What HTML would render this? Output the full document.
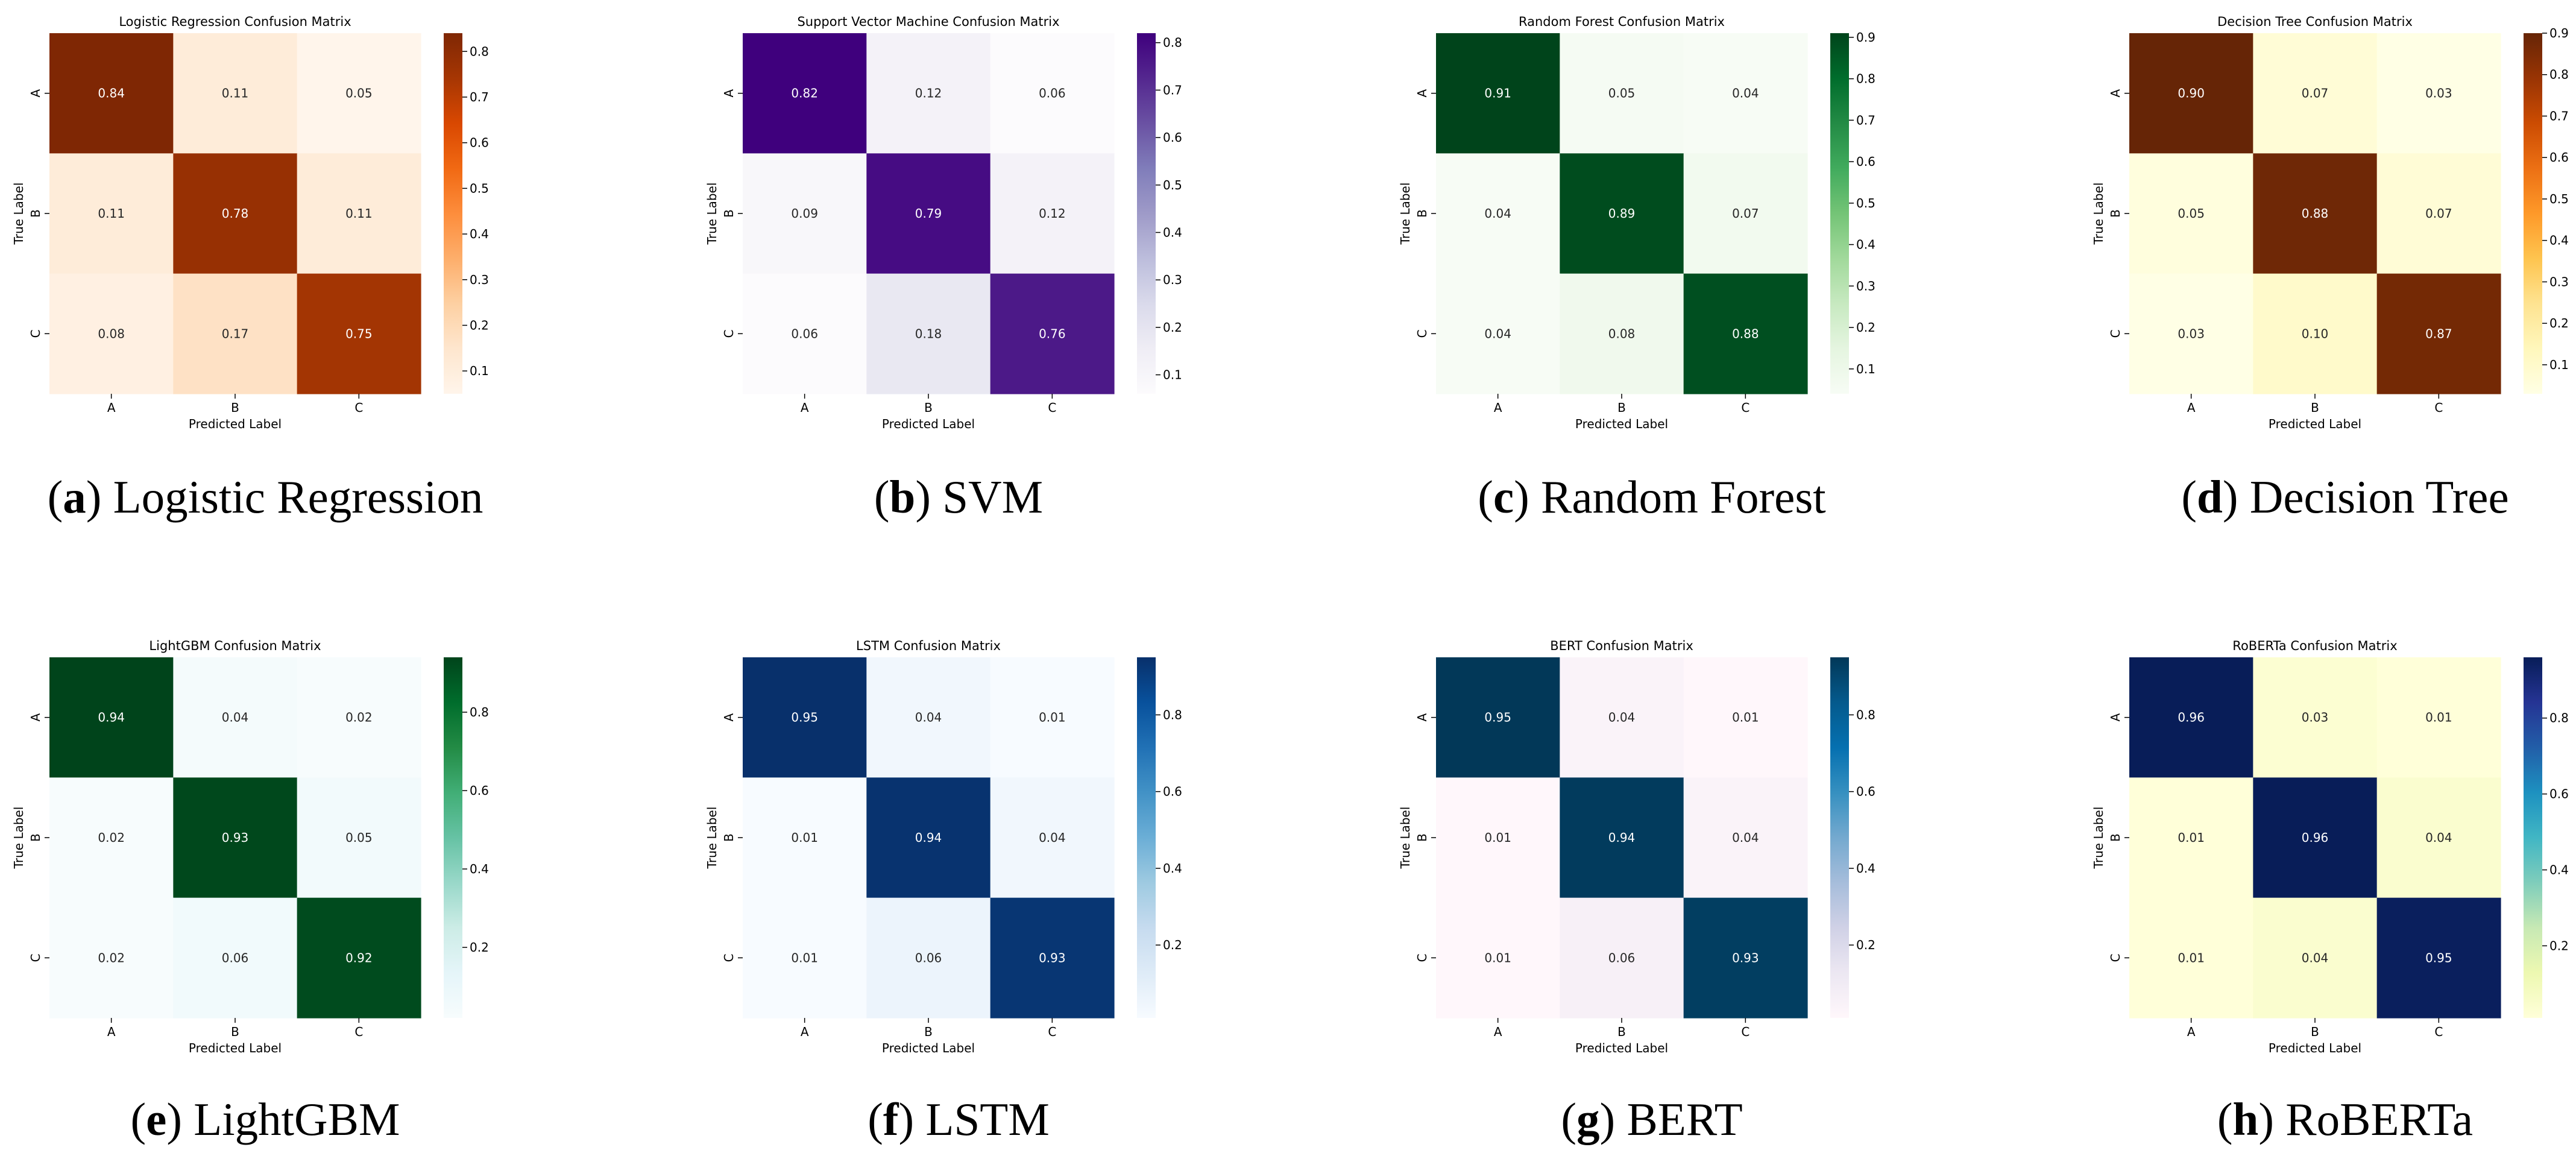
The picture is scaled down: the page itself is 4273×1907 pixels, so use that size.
<!DOCTYPE html>
<html><head><meta charset="utf-8"><style>
html,body{margin:0;padding:0;background:#fff;}
svg{display:block;}
text{font-family:"DejaVu Sans","Liberation Sans",sans-serif;}
.cap{font-family:"Liberation Serif","DejaVu Serif",serif;}
</style></head><body>
<svg id="fig" xmlns="http://www.w3.org/2000/svg" width="4273" height="1907" viewBox="0 0 4273 1907"></svg>
<script>
const classLabels = ["A","B","C"];
const titles = ["Logistic Regression Confusion Matrix","Support Vector Machine Confusion Matrix","Random Forest Confusion Matrix","Decision Tree Confusion Matrix","LightGBM Confusion Matrix","LSTM Confusion Matrix","BERT Confusion Matrix","RoBERTa Confusion Matrix"];
const captionLetters = ["a","b","c","d","e","f","g","h"];
const captionNames = ["Logistic Regression","SVM","Random Forest","Decision Tree","LightGBM","LSTM","BERT","RoBERTa"];
const valuesLR = [[0.84,0.11,0.05],[0.11,0.78,0.11],[0.08,0.17,0.75]];
const valuesSVM = [[0.82,0.12,0.06],[0.09,0.79,0.12],[0.06,0.18,0.76]];
const valuesRF = [[0.91,0.05,0.04],[0.04,0.89,0.07],[0.04,0.08,0.88]];
const valuesDT = [[0.90,0.07,0.03],[0.05,0.88,0.07],[0.03,0.10,0.87]];
const valuesLGBM = [[0.94,0.04,0.02],[0.02,0.93,0.05],[0.02,0.06,0.92]];
const valuesLSTM = [[0.95,0.04,0.01],[0.01,0.94,0.04],[0.01,0.06,0.93]];
const valuesBERT = [[0.95,0.04,0.01],[0.01,0.94,0.04],[0.01,0.06,0.93]];
const valuesRoBERTa = [[0.96,0.03,0.01],[0.01,0.96,0.04],[0.01,0.04,0.95]];
const ticksTop8 = [0.1,0.2,0.3,0.4,0.5,0.6,0.7,0.8];
const ticksTop9 = [0.1,0.2,0.3,0.4,0.5,0.6,0.7,0.8,0.9];
const ticksBottom = [0.2,0.4,0.6,0.8];

const allValues = [valuesLR,valuesSVM,valuesRF,valuesDT,valuesLGBM,valuesLSTM,valuesBERT,valuesRoBERTa];
const allTicks = [ticksTop8,ticksTop8,ticksTop9,ticksTop9,ticksBottom,ticksBottom,ticksBottom,ticksBottom];
const cmaps = {
 Oranges:["#fff5eb","#fee6ce","#fdd0a2","#fdae6b","#fd8d3c","#f16913","#d94801","#a63603","#7f2704"],
 Purples:["#fcfbfd","#efedf5","#dadaeb","#bcbddc","#9e9ac8","#807dba","#6a51a3","#54278f","#3f007d"],
 Greens:["#f7fcf5","#e5f5e0","#c7e9c0","#a1d99b","#74c476","#41ab5d","#238b45","#006d2c","#00441b"],
 YlOrBr:["#ffffe5","#fff7bc","#fee391","#fec44f","#fe9929","#ec7014","#cc4c02","#993404","#662506"],
 BuGn:["#f7fcfd","#e5f5f9","#ccece6","#99d8c9","#66c2a4","#41ae76","#238b45","#006d2c","#00441b"],
 Blues:["#f7fbff","#deebf7","#c6dbef","#9ecae1","#6baed6","#4292c6","#2171b5","#08519c","#08306b"],
 PuBu:["#fff7fb","#ece7f2","#d0d1e6","#a6bddb","#74a9cf","#3690c0","#0570b0","#045a8d","#023858"],
 YlGnBu:["#ffffd9","#edf8b1","#c7e9b4","#7fcdbb","#41b6c4","#1d91c0","#225ea8","#253494","#081d58"]
};
const panelCmaps = ["Oranges","Purples","Greens","YlOrBr","BuGn","Blues","PuBu","YlGnBu"];

function hex2rgb(h){return [1,3,5].map(i=>parseInt(h.substr(i,2),16));}
function cmapColor(name,t){
  const s=cmaps[name]; t=Math.max(0,Math.min(1,t));
  const p=t*(s.length-1), i=Math.min(Math.floor(p),s.length-2), f=p-i;
  const a=hex2rgb(s[i]), b=hex2rgb(s[i+1]);
  return a.map((v,k)=>Math.round(v+(b[k]-v)*f));
}
function rgbStr(c){return `rgb(${c[0]},${c[1]},${c[2]})`;}
function lum(c){const l=c.map(v=>{v/=255;return v<=0.03928?v/12.92:Math.pow((v+0.055)/1.055,2.4);});return 0.2126*l[0]+0.7152*l[1]+0.0722*l[2];}

const NS="http://www.w3.org/2000/svg";
const svg=document.getElementById('fig');
function el(tag,attrs,parent,txt){const e=document.createElementNS(NS,tag);for(const k in attrs)e.setAttribute(k,attrs[k]);if(txt!==undefined)e.textContent=txt;(parent||svg).appendChild(e);return e;}

const HM_W=616, CB_W=31, CB_GAP=38;
const rowTop=[55,1090], HM_H=598;
const colLeft=[82,1232,2382,3532];
const capY=[824,1856];

allValues.forEach((vals,p)=>{
  const r=Math.floor(p/4), c=p%4;
  const x0=colLeft[c], y0=rowTop[r];
  const g=el('g',{});
  
  
  const flat=vals.flat(); const vmin=Math.min(...flat), vmax=Math.max(...flat);
  const cw=HM_W/3, ch=HM_H/3;
  const xScale=j=>x0+j*cw, yScale=i=>y0+i*ch;
  const norm=v=>(v-vmin)/(vmax-vmin);
  const t=el('text',{x:x0+HM_W/2,y:y0-12,'text-anchor':'middle','font-size':21,fill:'#000'},g,titles[p]);
  
  
  vals.forEach((row,i)=>row.forEach((v,j)=>{
    const col=cmapColor(panelCmaps[p],norm(v));
    const rc=el('rect',{x:xScale(j),y:yScale(i),width:cw+0.6,height:ch+0.6,fill:rgbStr(col)},g);
    
    
    const tx=el('text',{x:xScale(j)+cw/2,y:yScale(i)+ch/2+7,'text-anchor':'middle','font-size':20,fill:lum(col)>0.408?'#262626':'#ffffff'},g,v.toFixed(2));
    
    
  }));
  classLabels.forEach((lab,k)=>{
    const cx=xScale(k)+cw/2, cy=yScale(k)+ch/2;
    el('line',{x1:cx,y1:y0+HM_H,x2:cx,y2:y0+HM_H+8,stroke:'#000','stroke-width':1.5},g);
    const xl=el('text',{x:cx,y:y0+HM_H+30,'text-anchor':'middle','font-size':20},g,lab);
    
    
    el('line',{x1:x0-8,y1:cy,x2:x0,y2:cy,stroke:'#000','stroke-width':1.5},g);
    const yl=el('text',{x:0,y:0,'text-anchor':'middle','font-size':20,transform:`translate(${x0-16},${cy}) rotate(-90)`},g,lab);
    
    
  });
  const xt=el('text',{x:x0+HM_W/2,y:y0+HM_H+57,'text-anchor':'middle','font-size':20},g,'Predicted Label');
  
  
  const yt=el('text',{x:0,y:0,'text-anchor':'middle','font-size':20,transform:`translate(${x0-44},${y0+HM_H/2}) rotate(-90)`},g,'True Label');
  
  
  const cbx=x0+HM_W+CB_GAP;
  const gid='grad'+p;
  const defs=el('defs',{},g);
  const lg=el('linearGradient',{id:gid,x1:0,y1:1,x2:0,y2:0},defs);
  cmaps[panelCmaps[p]].forEach((s,k,arr)=>el('stop',{offset:k/(arr.length-1),'stop-color':s},lg));
  const cb=el('rect',{x:cbx,y:y0,width:CB_W,height:HM_H,fill:`url(#${gid})`},g);
  
  
  const cbY=v=>y0+HM_H-(v-vmin)/(vmax-vmin)*HM_H;
  allTicks[p].forEach(tv=>{
    const yy=cbY(tv);
    el('line',{x1:cbx+CB_W,y1:yy,x2:cbx+CB_W+8,y2:yy,stroke:'#000','stroke-width':1.5},g);
    const tl=el('text',{x:cbx+CB_W+12,y:yy+7,'font-size':20},g,tv.toFixed(1));
    
    
  });
  const cap=el('text',{x:x0+358,y:capY[r]+26,'text-anchor':'middle','font-size':77,class:'cap'},g);
  
  
  el('tspan',{},cap,'(');
  el('tspan',{'font-weight':'bold'},cap,captionLetters[p]);
  el('tspan',{},cap,') '+captionNames[p]);
});
</script>
</body></html>
